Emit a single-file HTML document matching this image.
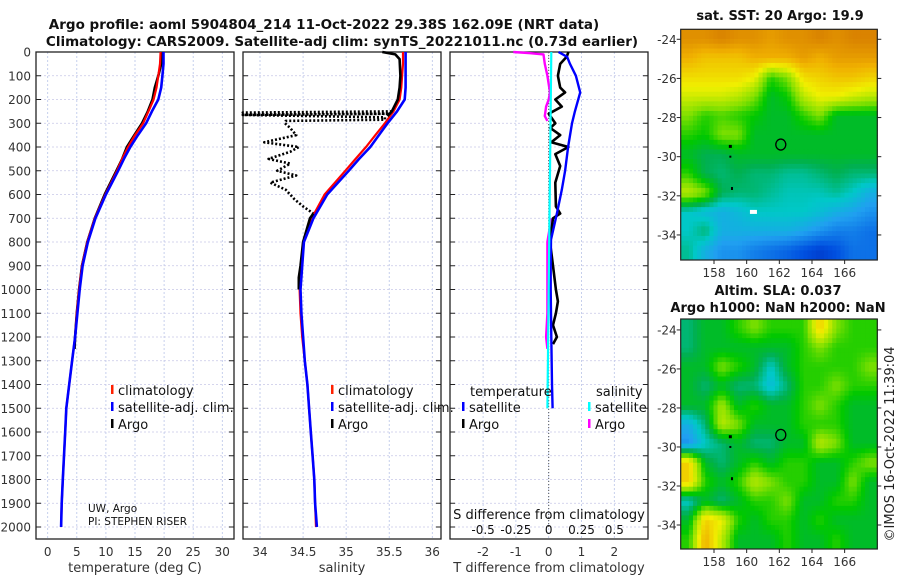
<!DOCTYPE html>
<html><head><meta charset="utf-8">
<style>
html,body{margin:0;padding:0;background:#fff;}
svg{display:block;font-family:"DejaVu Sans","Liberation Sans",sans-serif;}
</style></head>
<body>
<svg id="chart" width="900" height="580" viewBox="0 0 900 580"></svg>
<script>
// ---------- DATA ----------
const depthT = [0,50,100,150,200,250,300,350,400,450,500,600,700,800,900,1000,1100,1200,1300,1400,1500,1600,1700,1800,1900,2000];
const tempClim = [19.4,19.3,19.0,18.7,18.2,17.3,16.4,15.0,13.8,12.8,11.9,9.9,8.1,6.8,5.9,5.4,5.0,4.7,4.2,3.7,3.2,3.0,2.8,2.6,2.4,2.3];
const tempSat  = [19.9,19.9,19.7,19.5,19.0,17.9,16.9,15.5,14.2,13.1,12.1,10.0,8.2,6.9,6.0,5.5,5.1,4.7,4.2,3.7,3.2,3.0,2.8,2.6,2.4,2.3];
const depthArgoT = [0,50,100,150,200,250,300,350,400,450,500,600,700,800,900,1000,1100,1200,1250];
const tempArgo = [19.6,19.5,19.0,18.4,18.0,17.2,16.2,14.9,13.6,12.8,11.8,9.8,8.1,6.8,5.9,5.4,5.0,4.7,4.6];

const depthS = [0,50,100,150,200,250,300,350,400,450,500,600,700,800,900,1000,1100,1200,1300,1400,1500,1600,1700,1800,1900,2000];
const salClim = [35.66,35.66,35.65,35.64,35.62,35.55,35.45,35.34,35.23,35.11,34.99,34.75,34.60,34.50,34.48,34.46,34.47,34.49,34.52,34.55,34.57,34.59,34.61,34.63,34.64,34.65];
const salSat  = [35.69,35.69,35.69,35.69,35.68,35.59,35.48,35.38,35.28,35.15,35.03,34.78,34.62,34.51,34.49,34.47,34.48,34.50,34.52,34.55,34.57,34.59,34.61,34.63,34.64,34.66];
const depthArgoS = [0,10,30,100,150,200,250,270];
const salArgo = [35.42,35.57,35.62,35.63,35.62,35.60,35.53,35.48];
const depthArgoSBad = [250,255,260,265,275,285,290,300,320,350,380,400,420,450,470,500,520,550,580,620,650,680];
const salArgoBad = [35.53,33.8,35.5,33.8,35.45,35.45,34.3,34.29,34.35,34.42,34.05,34.45,34.35,34.1,34.35,34.2,34.42,34.12,34.3,34.4,34.5,34.62];
const depthArgoSDeep = [680,700,800,900,950,1000];
const salArgoDeep = [34.62,34.58,34.5,34.47,34.45,34.45];

const depthDT = [0,20,50,100,170,250,300,400,500,580,680,790,900,1000,1200,1400,1500];
const tDiffSat = [0.30,0.56,0.65,0.83,0.96,0.80,0.71,0.59,0.50,0.40,0.25,0.07,0.06,0.06,0.08,0.10,0.12];
const depthDTArgo = [0,20,50,100,150,170,200,230,260,300,320,350,380,400,430,480,550,650,680,700,800,900,1000,1050,1100,1150,1200,1230];
const tDiffArgo = [0.6,0.55,0.35,0.28,0.35,0.5,0.2,0.4,0.0,0.2,0.05,0.35,0.08,0.6,0.2,0.35,0.2,0.22,0.35,0.13,0.04,0.13,0.22,0.28,0.22,0.13,0.25,0.13];
const depthDS = [0,500,1000,1500];
const sDiffSat = [0.02,0.01,0.0,-0.01];
const depthDSArgo = [0,5,10,50,100,170,200,230,270,290];
const sDiffArgo = [-0.27,-0.14,-0.04,-0.03,-0.01,0.01,0.0,-0.02,-0.03,-0.01];
const depthDSArgo2 = [700,800,900,1000,1100,1200,1250];
const sDiffArgo2 = [0.02,-0.01,-0.01,-0.01,-0.01,-0.02,-0.01];

const depthTicks = [0,100,200,300,400,500,600,700,800,900,1000,1100,1200,1300,1400,1500,1600,1700,1800,1900,2000];
const tempTicks = [0,5,10,15,20,25,30];
const salTicks = [34,34.5,35,35.5,36];
const tDiffTicks = [-2,-1,0,1,2];
const sDiffTicks = [-0.5,-0.25,0,0.25,0.5];
const sDiffTickLabels = ["-0.5","-0.25","0","0.25","0.5"];
const lonTicks = [158,160,162,164,166];
const latTicks = [-24,-26,-28,-30,-32,-34];

const sstGrid = [
[.80,.80,.82,.80,.80,.78,.80,.80,.82,.80,.82,.82],
[.75,.72,.72,.72,.75,.75,.75,.78,.75,.78,.78,.78],
[.68,.68,.68,.68,.65,.50,.55,.68,.70,.72,.72,.70],
[.62,.62,.62,.60,.55,.45,.48,.60,.65,.65,.62,.60],
[.55,.50,.52,.50,.48,.45,.45,.50,.55,.45,.45,.45],
[.50,.48,.55,.55,.45,.45,.45,.45,.45,.45,.45,.45],
[.45,.42,.42,.45,.45,.45,.45,.45,.45,.45,.45,.45],
[.50,.42,.40,.42,.40,.40,.38,.38,.40,.42,.40,.40],
[.60,.55,.42,.40,.40,.38,.36,.36,.36,.38,.35,.30],
[.35,.32,.30,.32,.35,.35,.35,.35,.33,.30,.28,.25],
[.35,.40,.30,.30,.30,.30,.30,.28,.25,.22,.22,.20],
[.38,.30,.25,.25,.22,.20,.18,.15,.12,.15,.20,.20]];
const slaGrid = [
[.40,.45,.45,.50,.55,.50,.50,.50,.70,.55,.50,.50],
[.40,.45,.45,.45,.45,.45,.45,.50,.55,.50,.50,.50],
[.45,.45,.55,.50,.45,.35,.45,.50,.50,.50,.50,.55],
[.45,.40,.45,.40,.40,.32,.40,.50,.50,.55,.50,.50],
[.45,.45,.58,.45,.50,.45,.45,.50,.55,.50,.45,.45],
[.30,.40,.60,.55,.45,.45,.45,.50,.50,.50,.45,.45],
[.25,.35,.40,.45,.40,.40,.45,.45,.60,.55,.45,.45],
[.70,.45,.40,.45,.50,.45,.50,.50,.45,.45,.50,.55],
[.70,.50,.45,.50,.60,.55,.50,.50,.45,.45,.55,.45],
[.35,.45,.40,.45,.50,.50,.55,.45,.45,.50,.50,.45],
[.45,.70,.65,.50,.45,.50,.50,.45,.50,.45,.45,.45],
[.50,.75,.60,.45,.45,.45,.50,.45,.45,.50,.45,.45]];
const floatLon = 162.09, floatLat = -29.38;

// ---------- HELPERS ----------
const NS = "http://www.w3.org/2000/svg";
const svg = document.getElementById('chart');
function mk(tag, attrs, parent){ const e=document.createElementNS(NS,tag); for(const k in attrs) e.setAttribute(k,attrs[k]); (parent||svg).appendChild(e); return e; }
function txt(s, attrs, parent){ const e=mk('text',attrs,parent); e.textContent=s; return e; }
const lin = (d0,d1,r0,r1)=>v=>r0+(v-d0)*(r1-r0)/(d1-d0);
const yD = lin(0,2000,52,527);
const TOP=52, BOT=539;
const xT = lin(0,30,47.7,222.3);
const xS = lin(34,36,260,432.3);
const xDT = lin(0,2,548.7,614.3);
const xDS = lin(0,0.5,548.7,614.3);

function panelFrame(x0,x1,xticks,xfun,labels,name){
  const g=mk('g',{});
  
  
  xticks.forEach(v=>{ mk('line',{x1:xfun(v),x2:xfun(v),y1:TOP,y2:BOT,stroke:'#b8c4e8','stroke-width':0.8,'stroke-dasharray':'2,2'},g); });
  depthTicks.forEach(d=>{ mk('line',{x1:x0,x2:x1,y1:yD(d),y2:yD(d),stroke:'#c8c8e8','stroke-width':0.8,'stroke-dasharray':'2,2'},g);
    mk('line',{x1:x0,x2:x0+5,y1:yD(d),y2:yD(d),stroke:'#222'},g);
    mk('line',{x1:x1-5,x2:x1,y1:yD(d),y2:yD(d),stroke:'#222'},g); });
  if(labels) xticks.forEach((v,i)=>{ txt(labels[i],{x:xfun(v),y:556,'text-anchor':'middle','font-size':12,fill:'#333'},g); });
  mk('rect',{x:x0,y:TOP,width:x1-x0,height:BOT-TOP,fill:'none',stroke:'#222','stroke-width':1.3},g);
  return g;
}
function series(xs,ds,xf,color,w,name,dash){
  const pts=xs.map((v,i)=>xf(v).toFixed(1)+','+yD(ds[i]).toFixed(1)).join(' ');
  const p=mk('polyline',{points:pts,fill:'none',stroke:color,'stroke-width':w,'stroke-linejoin':'round'});
  if(dash) p.setAttribute('stroke-dasharray',dash);
  
  
  return p;
}

// ---------- TITLES ----------
let t1=txt('Argo profile: aoml 5904804_214 11-Oct-2022 29.38S 162.09E (NRT data)',{x:324,y:29,'text-anchor':'middle','font-size':13.5,'font-weight':'bold',fill:'#111'});


let t2=txt('Climatology: CARS2009. Satellite-adj clim: synTS_20221011.nc (0.73d earlier)',{x:342,y:46,'text-anchor':'middle','font-size':13.5,'font-weight':'bold',fill:'#111'});



depthTicks.forEach(d=>{ const e=txt(String(d),{x:31,y:yD(d)+4.5,'text-anchor':'end','font-size':12,fill:'#333'});
  
   });

// ---------- PANEL 1 TEMPERATURE ----------
panelFrame(36,234,tempTicks,xT,tempTicks.map(String),'temperature-panel');
series(tempArgo,depthArgoT,xT,'#000',2.6,'temp-argo-line');
series(tempClim,depthT,xT,'#ff0000',2.2,'temp-climatology-line');
series(tempSat,depthT,xT,'#0000ff',2.6,'temp-satellite-line');
let xl1=txt('temperature (deg C)',{x:135,y:572,'text-anchor':'middle','font-size':13,fill:'#333'});


function legend(x,y,items,name){
  const g=mk('g',{});
  
  
  items.forEach((it,i)=>{ mk('rect',{x:x,y:y+i*17-6,width:2.5,height:9,fill:it[1]},g);
    txt(it[0],{x:x+7,y:y+i*17+4,'font-size':13,fill:'#111'},g); });
}
legend(111,391,[['climatology','#ff2000'],['satellite-adj. clim.','#0000ff'],['Argo','#000']],'temperature-legend');
let pi=txt('UW, Argo',{x:88,y:512,'font-size':10.5,fill:'#111'});


let pi2=txt('PI: STEPHEN RISER',{x:88,y:525,'font-size':10.5,fill:'#111'});



// ---------- PANEL 2 SALINITY ----------
panelFrame(243,441,salTicks,xS,salTicks.map(String),'salinity-panel');
series(salArgoBad,depthArgoSBad,xS,'#000',2.6,'salinity-argo-flagged-line','2,2');
series(salClim,depthS,xS,'#ff0000',2.2,'salinity-climatology-line');
series(salArgo,depthArgoS,xS,'#000',2.6,'salinity-argo-line');
series(salArgoDeep,depthArgoSDeep,xS,'#000',2.6,'salinity-argo-deep-line');
series(salSat,depthS,xS,'#0000ff',2.6,'salinity-satellite-line');
let xl2=txt('salinity',{x:342,y:572,'text-anchor':'middle','font-size':13,fill:'#333'});


legend(331,391,[['climatology','#ff2000'],['satellite-adj. clim.','#0000ff'],['Argo','#000']],'salinity-legend');

// ---------- PANEL 3 DIFFERENCES ----------
panelFrame(450,648,tDiffTicks,xDT,tDiffTicks.map(String),'difference-panel');
let zl=mk('line',{x1:xDT(0),x2:xDT(0),y1:yD(0),y2:yD(2000),stroke:'#555','stroke-width':1,'stroke-dasharray':'1,2'});


series(sDiffArgo,depthDSArgo,xDS,'#ff00ff',2.4,'sdiff-argo-line');
series(sDiffArgo2,depthDSArgo2,xDS,'#ff00ff',2.4,'sdiff-argo-deep-line');
series(tDiffArgo,depthDTArgo,xDT,'#000',2.6,'tdiff-argo-line');
series(tDiffSat,depthDT,xDT,'#0000ff',2.4,'tdiff-satellite-line');
series(sDiffSat,depthDS,xDS,'#00ffff',2.2,'sdiff-satellite-line');
let lt=txt('temperature',{x:470,y:396,'font-size':13,fill:'#111'});


let ls=txt('salinity',{x:596,y:396,'font-size':13,fill:'#111'});


legend(462,408,[['satellite','#0000ff'],['Argo','#000']],'tdiff-legend');
legend(588,408,[['satellite','#00ffff'],['Argo','#ff00ff']],'sdiff-legend');
let sdt=txt('S difference from climatology',{x:549,y:519,'text-anchor':'middle','font-size':13,fill:'#111'});


sDiffTicks.forEach((v,i)=>{ const e=txt(sDiffTickLabels[i],{x:xDS(v),y:534,'text-anchor':'middle','font-size':12,fill:'#111'});
  
   });
let tdt=txt('T difference from climatology',{x:549,y:572,'text-anchor':'middle','font-size':13,fill:'#333'});



// ---------- MAPS ----------
const stops=[[0,[0,0,144]],[.15,[0,80,224]],[.27,[32,160,240]],[.35,[0,200,200]],[.42,[0,176,80]],[.48,[0,200,0]],[.55,[128,224,0]],[.65,[240,240,0]],[.75,[240,176,0]],[.85,[208,112,0]],[1,[160,0,0]]];
function cmap(v){ for(let i=1;i<stops.length;i++){ if(v<=stops[i][0]){ const a=stops[i-1],b=stops[i],f=(v-a[0])/(b[0]-a[0]);
  return 'rgb('+a[1].map((c,k)=>Math.round(c+(b[1][k]-c)*f)).join(',')+')'; } } return 'rgb(160,0,0)'; }
function sample(grid,fr,fc){
  const nr=grid.length,nc=grid[0].length;
  let r=Math.min(Math.max(fr-0.5,0),nr-1), c=Math.min(Math.max(fc-0.5,0),nc-1);
  const r0=Math.floor(r),c0=Math.floor(c),r1=Math.min(r0+1,nr-1),c1=Math.min(c0+1,nc-1),dr=r-r0,dc=c-c0;
  return grid[r0][c0]*(1-dr)*(1-dc)+grid[r0][c1]*(1-dr)*dc+grid[r1][c0]*dr*(1-dc)+grid[r1][c1]*dr*dc;
}
function drawMap(grid,y0,y1,latTop,latBot,name){
  const x0=680.7,x1=877.3,lonL=155.96,lonR=168.0;
  const xL=lin(lonL,lonR,x0,x1), yL=lin(latTop,latBot,y0,y1);
  const g=mk('g',{});
  
  
  const nr=grid.length,nc=grid[0].length, S=4, cw=(x1-x0)/(nc*S), ch=(y1-y0)/(nr*S);
  for(let r=0;r<nr*S;r++) for(let c=0;c<nc*S;c++){
    const v=sample(grid,(r+0.5)/S,(c+0.5)/S);
    mk('rect',{x:x0+c*cw,y:y0+r*ch,width:cw+0.5,height:ch+0.5,fill:cmap(v)},g);
  }
  mk('rect',{x:x0,y:y0,width:x1-x0,height:y1-y0,fill:'none',stroke:'#222','stroke-width':1.2},g);
  lonTicks.forEach(l=>{ mk('line',{x1:xL(l),x2:xL(l),y1:y1,y2:y1+4,stroke:'#222'},g);
    txt(String(l),{x:xL(l),y:y1+17,'text-anchor':'middle','font-size':12,fill:'#333'},g); });
  latTicks.forEach(l=>{ mk('line',{x1:x0-4,x2:x0,y1:yL(l),y2:yL(l),stroke:'#222'},g);
    mk('line',{x1:x1,x2:x1+4,y1:yL(l),y2:yL(l),stroke:'#222'},g);
    txt(String(l),{x:x0-4,y:yL(l)+4.5,'text-anchor':'end','font-size':12,fill:'#333'},g); });
  mk('ellipse',{cx:xL(floatLon),cy:yL(floatLat),rx:5,ry:5.5,fill:'none',stroke:'#000','stroke-width':1.3},g);
  mk('rect',{x:xL(159.0)-1.5,y:yL(-29.5)-2,width:3,height:3,fill:'#000'},g);
  mk('rect',{x:xL(159.0)-1,y:yL(-30.0)-1,width:2,height:2,fill:'#000'},g);
  mk('rect',{x:xL(159.1)-1,y:yL(-31.6)-1,width:2,height:3,fill:'#000'},g);
  return {g,xL,yL};
}
const m1=drawMap(sstGrid,29.3,260,-23.49,-35.28,'sst-map');
mk('rect',{x:m1.xL(160.2),y:m1.yL(-32.72),width:7,height:4,fill:'#fff'},m1.g);
let mt1=txt('sat. SST: 20 Argo: 19.9',{x:780,y:20,'text-anchor':'middle','font-size':13,'font-weight':'bold',fill:'#111'});


drawMap(slaGrid,319,549,-23.44,-35.23,'sla-map');
let mt2=txt('Altim. SLA: 0.037',{x:778,y:295,'text-anchor':'middle','font-size':13,'font-weight':'bold',fill:'#111'});


let mt3=txt('Argo h1000: NaN h2000: NaN',{x:778,y:312,'text-anchor':'middle','font-size':13,'font-weight':'bold',fill:'#111'});


let cr=txt('©IMOS 16-Oct-2022 11:39:04',{x:0,y:0,'text-anchor':'middle','font-size':13,fill:'#222',transform:'translate(894,444) rotate(-90)'});


</script>
</body></html>
